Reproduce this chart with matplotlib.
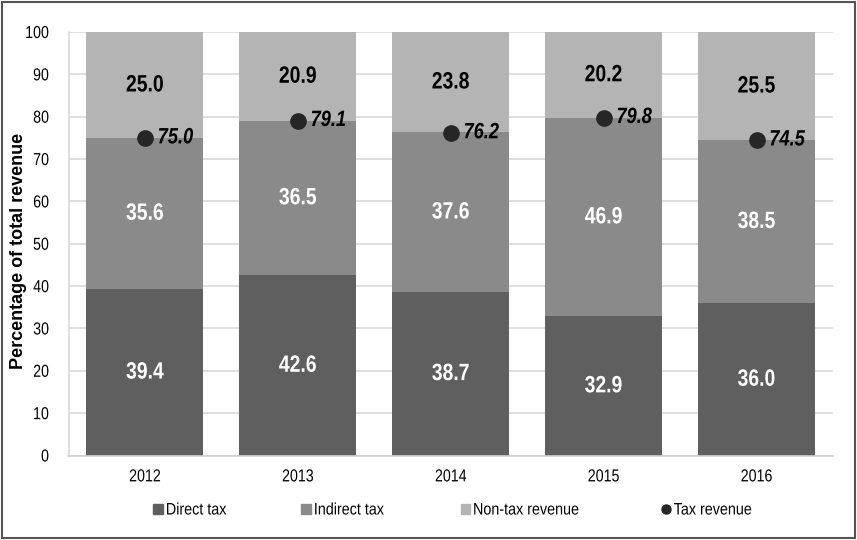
import matplotlib
matplotlib.use('Agg')
import matplotlib.pyplot as plt
from matplotlib.patches import Rectangle
from matplotlib.lines import Line2D
from matplotlib.patheffects import AbstractPathEffect
from matplotlib.transforms import Affine2D
import numpy as np

# revenue shares (% of total revenue)
years = ['2012', '2013', '2014', '2015', '2016']
direct_tax = [39.4, 42.6, 38.7, 32.9, 36.0]
indirect_tax = [35.6, 36.5, 37.6, 46.9, 38.5]
non_tax = [25.0, 20.9, 23.8, 20.2, 25.5]
tax_revenue = [75.0, 79.1, 76.2, 79.8, 74.5]

plt.rcParams['font.family'] = ['Liberation Sans', 'DejaVu Sans']


class Narrow(AbstractPathEffect):
    """Squeeze glyphs horizontally to mimic a condensed typeface."""

    def __init__(self, sx=0.82, anchor='center'):
        super().__init__()
        self.sx = sx
        self.anchor = anchor

    def draw_path(self, renderer, gc, tpath, affine, rgbFace=None):
        if len(tpath.vertices) == 0:
            return
        ext = tpath.get_extents(affine)
        if self.anchor == 'left':
            x0 = ext.x0
        elif self.anchor == 'right':
            x0 = ext.x1
        else:
            x0 = (ext.x0 + ext.x1) / 2
        squeeze = Affine2D().translate(-x0, 0).scale(self.sx, 1).translate(x0, 0)
        renderer.draw_path(gc, tpath, affine + squeeze, rgbFace)


c_direct = '#5f5f5f'
c_indirect = '#8a8a8a'
c_nontax = '#b4b4b4'
c_dot = '#262626'

fig = plt.figure(figsize=(8.57, 5.4), dpi=100)
ax = fig.add_axes([68.5 / 857, 1 - 455.5 / 540, (833 - 68.5) / 857, (455.5 - 32) / 540])

x = np.arange(len(years))
w = 0.765
d = np.array(direct_tax)
i = np.array(indirect_tax)
n = np.array(non_tax)

ax.bar(x, d, w, color=c_direct, zorder=2)
ax.bar(x, i, w, bottom=d, color=c_indirect, zorder=2)
ax.bar(x, n, w, bottom=d + i, color=c_nontax, zorder=2)

lab = dict(ha='center', va='center', fontsize=17, fontweight='bold', zorder=4,
           path_effects=[Narrow(anchor='center')])
for k in range(len(years)):
    ax.text(x[k], d[k] / 2, f'{d[k]:.1f}', color='white', **lab)
    ax.text(x[k], d[k] + i[k] / 2, f'{i[k]:.1f}', color='white', **lab)
    ax.text(x[k], d[k] + i[k] + n[k] / 2, f'{n[k]:.1f}', color='black', **lab)

ax.plot(x, tax_revenue, 'o', color=c_dot, markersize=11, linestyle='none', zorder=5)
for k, v in enumerate(tax_revenue):
    ax.annotate(f'{v:.1f}', (x[k], v), xytext=(9, 0), textcoords='offset points',
                ha='left', va='center', fontsize=16, fontweight='bold',
                fontstyle='italic', color='black', zorder=6,
                path_effects=[Narrow(anchor='left')])

ax.set_xlim(-0.5, len(years) - 0.5)
ax.set_ylim(0, 100)
ax.set_yticks(range(0, 101, 10))
ax.set_xticks(x)
ax.set_xticklabels(years)
ax.tick_params(axis='both', length=0, labelsize=12.5, colors='black')
ax.tick_params(axis='y', pad=14)
ax.tick_params(axis='x', pad=10)
for t in ax.get_xticklabels():
    t.set_path_effects([Narrow(anchor='center')])
for t in ax.get_yticklabels():
    t.set_path_effects([Narrow(anchor='right')])
ax.grid(axis='y', color='#d9d9d9', linewidth=1.2, zorder=0)
for s in ['top', 'right']:
    ax.spines[s].set_visible(False)
ax.spines['left'].set_color('#d9d9d9')
ax.spines['bottom'].set_color('#d0d0d0')
ax.spines['left'].set_linewidth(1.2)
ax.spines['bottom'].set_linewidth(1.2)

ax.set_ylabel('Percentage of total revenue', fontsize=13, fontweight='bold')
ax.yaxis.set_label_coords((27 - 68.5) / 764.5, 0.483)

handles = [
    Rectangle((0, 0), 1, 1, color=c_direct),
    Rectangle((0, 0), 1, 1, color=c_indirect),
    Rectangle((0, 0), 1, 1, color=c_nontax),
    Line2D([], [], marker='o', color=c_dot, linestyle='none', markersize=6.5),
]
leg = fig.legend(handles, ['Direct tax', 'Indirect tax', 'Non-tax revenue', 'Tax revenue'],
                 loc='center', bbox_to_anchor=(459 / 857, 1 - 510 / 540), ncol=4,
                 frameon=False, fontsize=12, handlelength=0.56, handleheight=0.56,
                 handletextpad=0.18, columnspacing=3.9)
for t in leg.get_texts():
    t.set_path_effects([Narrow(sx=0.86, anchor='left')])

# outer frame
fig.patches.append(Rectangle((0.002, 0.004), 0.996, 0.993, transform=fig.transFigure,
                             fill=False, edgecolor='#555555', linewidth=1.5))

fig.savefig('out.png', dpi=100)
